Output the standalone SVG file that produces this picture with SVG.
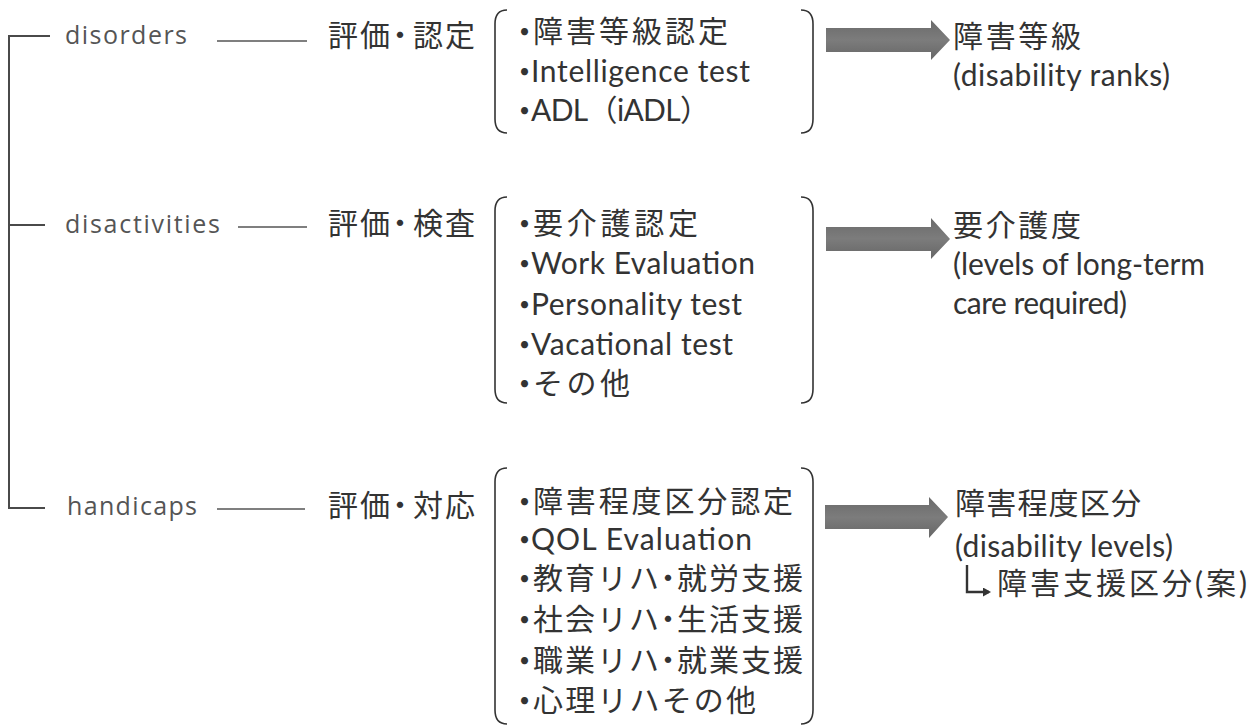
<svg xmlns="http://www.w3.org/2000/svg" width="1259" height="726" viewBox="0 0 1259 726">
<style>
.lbl{font-family:"Open Sans","Noto Sans CJK JP",sans-serif;font-size:25px;fill:#555}
.eval{font-family:"Noto Sans CJK JP",sans-serif;font-size:30px;fill:#333}
.item{font-family:"Lato","Noto Sans CJK JP",sans-serif;font-size:30px;fill:#333}
.jp{font-family:"Noto Sans CJK JP",sans-serif;font-size:30px;fill:#333;letter-spacing:2px}
.jx{font-family:"Noto Sans CJK JP",sans-serif;font-size:30px;fill:#333}
.bul{font-family:"Lato",sans-serif;font-size:19px;fill:#333}
.res{font-family:"Lato","Noto Sans CJK JP",sans-serif;font-size:30px;fill:#333}
.ln{stroke:#4a4a4a;stroke-width:2;fill:none}
.dash{stroke:#555;stroke-width:1.6;fill:none}
.brk{stroke:#333;stroke-width:1.6;fill:none}
.arr{fill:url(#ag)}
</style>
<defs>
<linearGradient id="ag" x1="0" y1="0" x2="0" y2="1">
<stop offset="0" stop-color="#6a6a6a"/>
<stop offset="0.5" stop-color="#7c7c7c"/>
<stop offset="1" stop-color="#666"/>
</linearGradient>
<marker id="mh" markerWidth="9" markerHeight="9" refX="6" refY="4.5" orient="auto" markerUnits="userSpaceOnUse">
<path d="M0,0 L8,4.5 L0,9 Z" fill="#333"/>
</marker>
</defs>
<rect width="1259" height="726" fill="#fff"/>

<g id="connectors">
<path class="ln" d="M50,36 H9 V508 H45"/>
<path class="ln" d="M9,225 H45"/>
<path class="dash" d="M217,41 H307"/>
<path class="dash" d="M238,227 H307"/>
<path class="dash" d="M217,509 H305"/>
<path class="arr" d="M826,28 H931 V20 L950,40 L931,60 V52 H826 Z"/>
<path class="arr" d="M826,227 H931 V218 L950,239 L931,259 V251 H826 Z"/>
<path class="arr" d="M825,505 H929 V497 L948,517 L929,538 V529 H825 Z"/>
<path d="M967,565 V592 H989" stroke="#333" stroke-width="2.4" fill="none" marker-end="url(#mh)"/>
</g>

<g id="disorders"><text class="lbl" x="65" y="44" textLength="122" lengthAdjust="spacing">disorders</text></g>
<g id="disactivities"><text class="lbl" x="65" y="233" textLength="155" lengthAdjust="spacing">disactivities</text></g>
<g id="handicaps"><text class="lbl" x="67" y="515" textLength="130" lengthAdjust="spacing">handicaps</text></g>

<g id="eval1"><text class="eval" x="328 360 385 413 445" y="46">評価・認定</text></g>
<g id="eval2"><text class="eval" x="328 360 385 413 445" y="234">評価・検査</text></g>
<g id="eval3"><text class="eval" x="328 360 385 413 445" y="516">評価・対応</text></g>

<g id="box1">
<path class="brk" d="M507,10 Q495,10 495,24 V119 Q495,133 507,133"/>
<path class="brk" d="M801,10 Q813,10 813,24 V119 Q813,133 801,133"/>
<text class="bul" x="519" y="38">•</text>
<text class="jp" x="533" y="42" textLength="197" lengthAdjust="spacing">障害等級認定</text>
<text class="bul" x="519" y="78">•</text>
<text class="item" x="531" y="82" textLength="219" lengthAdjust="spacing">Intelligence test</text>
<text class="bul" x="519" y="117">•</text>
<text class="item" x="531" y="121" textLength="179" lengthAdjust="spacing">ADL（iADL）</text>
</g>

<g id="box2">
<path class="brk" d="M507,197 Q495,197 495,211 V389 Q495,403 507,403"/>
<path class="brk" d="M801,197 Q813,197 813,211 V389 Q813,403 801,403"/>
<text class="bul" x="519" y="230">•</text>
<text class="jp" x="533" y="234" textLength="167" lengthAdjust="spacing">要介護認定</text>
<text class="bul" x="519" y="270">•</text>
<text class="item" x="531" y="274" textLength="224" lengthAdjust="spacing">Work Evaluation</text>
<text class="bul" x="519" y="311">•</text>
<text class="item" x="531" y="315" textLength="211" lengthAdjust="spacing">Personality test</text>
<text class="bul" x="519" y="351">•</text>
<text class="item" x="531" y="355" textLength="202" lengthAdjust="spacing">Vacational test</text>
<text class="bul" x="519" y="390">•</text>
<text class="jp" x="533" y="394" textLength="99" lengthAdjust="spacing">その他</text>
</g>

<g id="box3">
<path class="brk" d="M507,468 Q495,468 495,482 V710 Q495,724 507,724"/>
<path class="brk" d="M801,468 Q813,468 813,482 V710 Q813,724 801,724"/>
<text class="bul" x="519" y="508">•</text>
<text class="jp" x="533" y="512" textLength="262" lengthAdjust="spacing">障害程度区分認定</text>
<text class="bul" x="519" y="546">•</text>
<text class="item" x="531" y="550" textLength="221" lengthAdjust="spacing">QOL Evaluation</text>
<text class="bul" x="519" y="585">•</text>
<text class="jx" x="533 565 597 629 653 677 709 741 773" y="589">教育リハ・就労支援</text>
<text class="bul" x="519" y="626">•</text>
<text class="jx" x="533 565 597 629 653 677 709 741 773" y="630">社会リハ・生活支援</text>
<text class="bul" x="519" y="667">•</text>
<text class="jx" x="533 565 597 629 653 677 709 741 773" y="671">職業リハ・就業支援</text>
<text class="bul" x="519" y="707">•</text>
<text class="jp" x="533" y="711" textLength="225" lengthAdjust="spacing">心理リハその他</text>
</g>

<g id="result1">
<text class="jp" x="953" y="47" textLength="130" lengthAdjust="spacing">障害等級</text>
<text class="res" x="953" y="86" textLength="217" lengthAdjust="spacing">(disability ranks)</text>
</g>
<g id="result2">
<text class="jp" x="953" y="236" textLength="130" lengthAdjust="spacing">要介護度</text>
<text class="res" x="953" y="275" textLength="252" lengthAdjust="spacing">(levels of long-term</text>
<text class="res" x="953" y="314" textLength="174" lengthAdjust="spacing">care required)</text>
</g>
<g id="result3">
<text class="jp" x="955" y="514" textLength="188" lengthAdjust="spacing">障害程度区分</text>
<text class="res" x="955" y="557" textLength="218" lengthAdjust="spacing">(disability levels)</text>
<text class="res" x="997" y="594" textLength="250" lengthAdjust="spacing">障害支援区分(案)</text>
</g>
</svg>
